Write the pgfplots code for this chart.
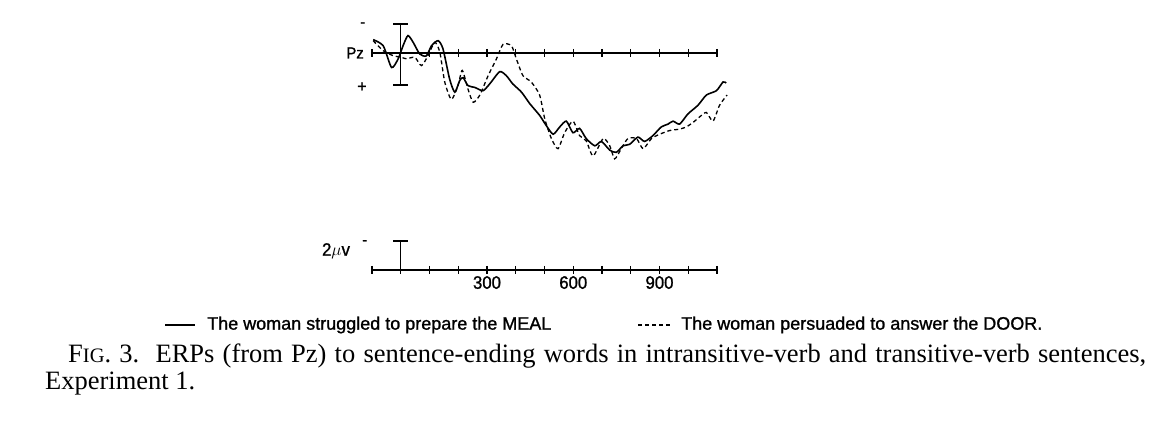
\documentclass[border=0pt]{standalone}
\usepackage{fontspec}
\setmainfont{Liberation Serif}
\newfontfamily\lab[FakeBold=1.2]{Liberation Sans}
\newfontfamily\labc[FakeStretch=0.93,FakeBold=1.2]{Liberation Sans}
\usepackage{pgfplots}
\pgfplotsset{compat=1.18}
\begin{document}
\begin{tikzpicture}[x=1pt,y=1pt]
\path[use as bounding box] (0,0) rectangle (1166,427);
\begin{axis}[at={(372pt,410.25pt)}, anchor=north west, scale only axis,
  width=345pt, height=152.25pt, xmin=-100, xmax=1100, ymin=-2.5, ymax=8,
  y dir=reverse, clip=false, axis x line*=middle, axis y line=none,
  xtick={-100,0,...,1100}, xticklabels={}, major tick length=8pt, tick align=center,
  x axis line style={line width=1.8pt}, tick style={line width=1.4pt,black}]
\addplot[black, line width=1.6pt, smooth, tension=0.4] coordinates {
(-96,-0.92) (-61,-0.5) (-32,1.0) (-9,0.4) (8,-0.5) (25,-1.2) (43,-0.74) (66,0.07)
(89,0.2) (107,-0.5) (130,-0.85) (147,-0.28) (170,1.8) (188,2.7) (205,1.9) (217,1.7)
(234,2.25) (257,2.37) (286,2.6) (309,2.14) (344,1.29) (367,1.56) (390,2.14) (420,2.7)
(449,3.5) (483,4.3) (506,5.0) (530,5.6) (553,5.1) (576,4.7) (599,5.5) (622,5.2)
(645,5.9) (675,6.4) (698,6.1) (727,6.7) (750,6.85) (773,6.4) (796,6.3) (825,5.8)
(848,6.1) (877,5.7) (906,5.1) (930,4.9) (947,4.7) (970,4.9) (999,4.2) (1034,3.6)
(1063,2.9) (1098,2.6) (1121,2.0) (1132,2.07)};
\addplot[black, line width=1.3pt, dash pattern=on 4pt off 3pt, smooth, tension=0.4] coordinates {
(-96,-0.85) (-61,-0.16) (-27,0.18) (2,0.3) (20,0.4) (49,0.3) (72,0.87) (95,0.18)
(118,-0.74) (136,-0.05) (153,2.0) (176,3.2) (199,2.25) (214,1.2) (234,2.5) (252,3.4)
(275,2.9) (304,1.56) (333,0.4) (356,-0.6) (385,-0.5) (402,0.4) (425,1.56) (454,2.0)
(483,2.9) (501,4.55) (524,5.9) (547,6.6) (570,5.5) (599,4.7) (622,5.7) (645,6.05)
(669,7.1) (704,5.9) (727,6.4) (744,7.3) (767,6.6) (790,5.9) (820,5.9) (843,6.6)
(872,5.9) (901,5.6) (935,5.35) (970,5.25) (993,5.1) (1016,4.8) (1040,4.4) (1063,4.1)
(1086,4.7) (1109,3.6) (1135,2.9)};
\addplot[black, line width=1.4pt] coordinates {(0,-2) (0,2.2)};
\addplot[black, line width=1.4pt] coordinates {(-26,-2) (26,-2)};
\addplot[black, line width=1.4pt] coordinates {(-26,2.2) (26,2.2)};
\node[anchor=east, font=\labc\fontsize{16}{16}\selectfont, inner sep=0] at (axis cs:-128,0) {Pz};
\node[font=\lab\fontsize{15}{15}\selectfont, inner sep=0] at (axis cs:-132,-1.95) {-};
\node[font=\lab\fontsize{16}{16}\selectfont, inner sep=0] at (axis cs:-135,2.35) {+};
\end{axis}
\begin{axis}[at={(372pt,193.25pt)}, anchor=north west, scale only axis,
  width=345pt, height=50.75pt, xmin=-100, xmax=1100, ymin=-2.5, ymax=1,
  y dir=reverse, clip=false, axis x line*=middle, axis y line=none,
  xtick={-100,0,...,1100}, xticklabels={,,,,300,,,600,,,900,,},
  major tick length=8pt, tick align=center,
  x axis line style={line width=1.8pt}, tick style={line width=1.4pt,black},
  xticklabel style={font=\labc\fontsize{18}{18}\selectfont, inner sep=2pt}]
\addplot[black, line width=1.4pt] coordinates {(0,0) (0,-2)};
\addplot[black, line width=1.4pt] coordinates {(-26,-2) (26,-2)};
\node[anchor=east, font=\labc\fontsize{18}{18}\selectfont, inner sep=0] at (axis cs:-176,-1.3) {2$\mu$v};
\node[font=\lab\fontsize{15}{15}\selectfont, inner sep=0] at (axis cs:-125,-1.9) {-};
\end{axis}
\draw[line width=1.4pt] (165,102) -- (195,102);
\node[anchor=west, inner sep=0, font=\lab\fontsize{18}{18}\selectfont] at (207,102) {The woman struggled to prepare the MEAL};
\draw[line width=1.3pt, dash pattern=on 4pt off 3pt] (638,102) -- (670,102);
\node[anchor=west, inner sep=0, font=\lab\fontsize{18}{18}\selectfont] at (681,102) {The woman persuaded to answer the DOOR.};
\node[anchor=base west, inner sep=0] at (68,64) {\fontsize{26.5}{25}\selectfont\makebox[1078pt][s]{F{\fontsize{20.5}{19}\selectfont IG}. 3.\ \ ERPs (from Pz) to sentence-ending words in intransitive-verb and transitive-verb sentences,}};
\node[anchor=base west, inner sep=0] at (45,37) {\fontsize{26.5}{25}\selectfont Experiment 1.};
\end{tikzpicture}
\end{document}
